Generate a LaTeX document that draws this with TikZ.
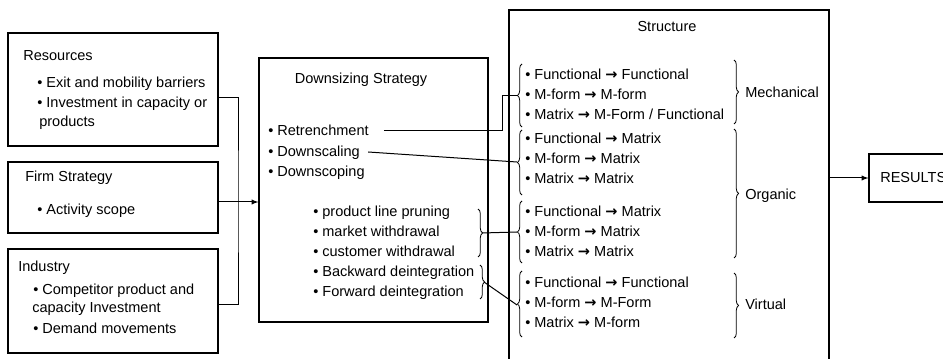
\documentclass[tikz,border=0pt]{standalone}
\usepackage{fontspec}
\setmainfont{Liberation Sans}
\newfontfamily\arrowfont{DejaVu Sans}
\newcommand{\toarrow}{{\arrowfont\bfseries →}}
\usetikzlibrary{arrows,calc,fit,decorations.pathreplacing}
\tikzstyle{box} = [draw, line width=0.9pt, inner sep=0pt]
\tikzstyle{item} = [anchor=west, inner sep=0pt, text height=0.72em, text depth=0pt]
\tikzstyle{brc} = [decorate, decoration={brace, amplitude=3.5pt}, line width=0.6pt]
\tikzstyle{link} = [line width=0.75pt]
\tikzset{font={\fontsize{10.9}{13}\selectfont}}

\begin{document}
\begin{tikzpicture}[x=0.75pt, y=-0.75pt]
  \useasboundingbox (0,0) rectangle (943,359);

  % influences
  \node[box, fit={(8,33) (218,146)}] (res) {};
  \node[item] (resT) at (23,56) {Resources};
  \node[item] (res1) at (37,83) {• Exit and mobility barriers};
  \node[item] (res2) at (37,103) {• Investment in capacity or};
  \node[item] (res3) at (39,122) {products};

  \node[box, fit={(8,162) (218,233)}] (firm) {};
  \node[item] (firmT) at (25,177) {Firm Strategy};
  \node[item] (firm1) at (37,210) {• Activity scope};

  \node[box, fit={(8,249) (218,353)}] (ind) {};
  \node[item] (indT) at (18,267) {Industry};
  \node[item] (ind1) at (33,290) {• Competitor product and};
  \node[item] (ind2) at (32,308) {capacity Investment};
  \node[item] (ind3) at (33,329) {• Demand movements};

  % downsizing
  \node[box, fit={(259,58) (488,322)}] (down) {};
  \node[item, anchor=center] (downT) at (361,79) {Downsizing Strategy};
  \node[item] (retr) at (268,131) {• Retrenchment};
  \node[item] (dscal) at (268,152) {• Downscaling};
  \node[item] (dscop) at (268,172) {• Downscoping};
  \node[item] (sub1) at (313,212) {• product line pruning};
  \node[item] (sub2) at (313,232) {• market withdrawal};
  \node[item] (sub3) at (313,252) {• customer withdrawal};
  \node[item] (sub4) at (313,272) {• Backward deintegration};
  \node[item] (sub5) at (313,292) {• Forward deintegration};
  \draw[brc] (478,209) -- (478,257);
  \draw[brc] (480,265) -- (480,299);
  \coordinate (tipA) at (482,233);
  \coordinate (tipB) at (484,282);

  % structure
  \node[box, fit={(509,10) (829,366)}] (struct) {};
  \node[item, anchor=center] (structT) at (667,27) {Structure};

  \node[item] (g1a) at (525,75) {• Functional \toarrow{} Functional};
  \node[item] (g1b) at (525,95) {• M-form \toarrow{} M-form};
  \node[item] (g1c) at (525,115) {• Matrix \toarrow{} M-Form / Functional};
  \node[item] (g2a) at (525,139) {• Functional \toarrow{} Matrix};
  \node[item] (g2b) at (525,159) {• M-form \toarrow{} Matrix};
  \node[item] (g2c) at (525,179) {• Matrix \toarrow{} Matrix};
  \node[item] (g3a) at (525,212) {• Functional \toarrow{} Matrix};
  \node[item] (g3b) at (525,232) {• M-form \toarrow{} Matrix};
  \node[item] (g3c) at (525,252) {• Matrix \toarrow{} Matrix};
  \node[item] (g4a) at (525,283) {• Functional \toarrow{} Functional};
  \node[item] (g4b) at (525,303) {• M-form \toarrow{} M-Form};
  \node[item] (g4c) at (525,323) {• Matrix \toarrow{} M-form};

  \draw[brc] (522,127) -- (522,64);
  \draw[brc] (522,195) -- (522,130);
  \draw[brc] (522,263) -- (522,201);
  \draw[brc] (522,337) -- (522,271);
  \coordinate (g1L) at (517,96);
  \coordinate (g2L) at (517,162);
  \coordinate (g3L) at (517,232);
  \coordinate (g4L) at (517,305);

  \draw[brc] (734,60) -- (734,124);
  \draw[brc] (734,129) -- (734,258);
  \draw[brc] (734,273) -- (734,338);
  \node[item] (mech) at (745,93) {Mechanical};
  \node[item] (org) at (745,195) {Organic};
  \node[item] (virt) at (745,305) {Virtual};

  % results
  \node[box, fit={(869,154) (965,202)}] (resu) {};
  \node[item] (resuT) at (880,178) {RESULTS};

  % connectors
  \coordinate (join) at (238,202);
  \draw[link] (res.east |- 0,98) -| (join) |- (ind.east |- 0,305);
  \draw[link, -latex] (firm.east |- join) -- (down.west |- join);
  \draw[link] (retr.east) ++(15,0) -| ($(g1L)+(-15,0)$) -- (g1L);
  \draw[link] (dscal.east) ++(8,0) -- (g2L);
  \draw[link] (tipA) -- (g3L);
  \draw[link] (tipB) -- (g4L);
  \draw[link, -latex] (struct.east |- resu) -- (resu.west);
\end{tikzpicture}
\end{document}
